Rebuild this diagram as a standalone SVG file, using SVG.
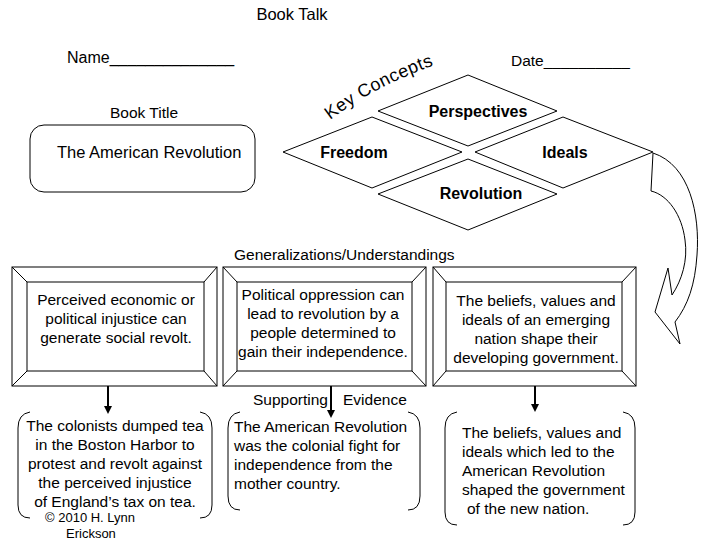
<svg xmlns="http://www.w3.org/2000/svg" width="720" height="540" viewBox="0 0 720 540">
<style>
text{font-family:"Liberation Sans",Arial,sans-serif;font-size:15.5px;fill:#000}
.b{font-weight:bold;font-size:16px}
.s{fill:#fff;stroke:#000;stroke-width:1}
.l{fill:none;stroke:#000;stroke-width:1}
.m{text-anchor:middle}
</style>
<defs>
<marker id="ah" markerWidth="8" markerHeight="8" refX="4" refY="4" orient="auto" markerUnits="userSpaceOnUse"><path d="M0,0L8,4L0,8z"/></marker>
<path id="kc" d="M330,120 Q372,88 432,66"/>
</defs>
<rect width="720" height="540" fill="#fff"/>
<text x="292" y="20" class="m" style="font-size:16.5px">Book Talk</text>
<text x="67" y="63" style="font-size:16px">Name______________</text>
<text x="511" y="66">Date__________</text>
<text x="110" y="118">Book Title</text>
<text style="font-size:18px" letter-spacing="0.5"><textPath href="#kc">Key Concepts</textPath></text>
<g id="title"><rect class="s" x="30" y="125" width="225" height="67" rx="14"/><text x="57" y="158" style="font-size:16.5px">The American Revolution</text></g>
<g id="perspectives"><path class="s" d="M468,75L557,111L468,146L378,111z"/><text x="478" y="117" class="b m">Perspectives</text></g>
<g id="freedom"><path class="s" d="M372,117L462,152L372,188L283,152z"/><text x="354" y="158" class="b m">Freedom</text></g>
<g id="ideals"><path class="s" d="M563,117L653,152L563,188L475,152z"/><text x="565" y="158" class="b m">Ideals</text></g>
<g id="revolution"><path class="s" d="M468,159L557,194L468,230L378,194z"/><text x="481" y="199" class="b m">Revolution</text></g>
<g id="curved-arrow"><path class="s" d="M653,153C690,165 700,215 697,255C695,285 688,305 675,322L680,344L655,312L668,268L672,295C682,280 688,260 685,240C682,215 668,195 651,191z"/></g>
<text x="234" y="260">Generalizations/Understandings</text>
<g id="gen1"><rect class="s" x="12" y="267" width="205" height="119"/><rect class="l" x="27" y="282" width="177" height="89"/><path class="l" d="M12,267L27,282M217,267L204,282M12,386L27,371M217,386L204,371"/>
<text class="m" x="116" y="305">Perceived economic or</text><text class="m" x="116" y="324">political injustice can</text><text class="m" x="116" y="343">generate social revolt.</text></g>
<g id="gen2"><rect class="s" x="223" y="267" width="203" height="119"/><rect class="l" x="237" y="282" width="175" height="89"/><path class="l" d="M223,267L237,282M426,267L412,282M223,386L237,371M426,386L412,371"/>
<text class="m" x="323" y="300">Political oppression can</text><text class="m" x="323" y="319">lead to revolution by a</text><text class="m" x="323" y="338">people determined to</text><text class="m" x="323" y="357">gain their independence.</text></g>
<g id="gen3"><rect class="s" x="433" y="267" width="203" height="119"/><rect class="l" x="446" y="282" width="176" height="89"/><path class="l" d="M433,267L446,282M636,267L622,282M433,386L446,371M636,386L622,371"/>
<text class="m" x="536" y="306">The beliefs, values and</text><text class="m" x="536" y="325">ideals of an emerging</text><text class="m" x="536" y="344">nation shape their</text><text class="m" x="536" y="363">developing government.</text></g>
<text x="253" y="405">Supporting</text><text x="343" y="405">Evidence</text>
<g id="connectors" stroke="#000" stroke-width="2">
<line x1="108" y1="386" x2="108" y2="410" marker-end="url(#ah)"/>
<line x1="331" y1="386" x2="331" y2="414" marker-end="url(#ah)"/>
<line x1="535" y1="386" x2="535" y2="408" marker-end="url(#ah)"/>
</g>
<g id="ev1"><path class="l" d="M30,412Q18,414 18,428V505Q18,518 30,518M200,412Q212,414 212,428V505Q212,518 200,518"/>
<text class="m" x="115" y="431">The colonists dumped tea</text><text class="m" x="115" y="450">in the Boston Harbor to</text><text class="m" x="115" y="469">protest and revolt against</text><text class="m" x="115" y="488">the perceived injustice</text><text class="m" x="115" y="507">of England’s tax on tea.</text>
<text x="45" y="522" style="font-size:13px">© 2010 H. Lynn</text><text x="66" y="538" style="font-size:13px">Erickson</text></g>
<g id="ev2"><path class="l" d="M240,412Q228,414 228,428V496Q228,510 240,510M408,412Q420,414 420,428V496Q420,510 408,510"/>
<text x="234" y="432">The American Revolution</text><text x="234" y="451">was the colonial fight for</text><text x="234" y="470">independence from the</text><text x="234" y="489">mother country.</text></g>
<g id="ev3"><path class="l" d="M457,412Q445,414 445,428V512Q445,525 457,525M623,412Q635,414 635,428V512Q635,525 623,525"/>
<text x="462" y="438">The beliefs, values and</text><text x="462" y="457">ideals which led to the</text><text x="462" y="476">American Revolution</text><text x="462" y="495">shaped the government</text><text x="467" y="514">of the new nation.</text></g>
</svg>
